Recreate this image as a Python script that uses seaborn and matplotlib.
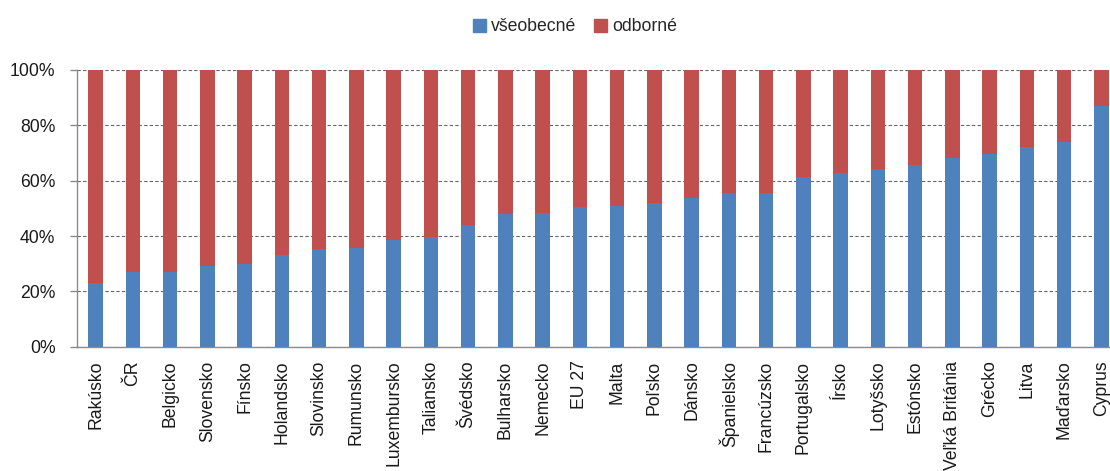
import matplotlib
matplotlib.use("Agg")
import matplotlib.pyplot as plt
from matplotlib.patches import Patch
from matplotlib.ticker import FixedLocator
import seaborn as sns
import pandas as pd
import numpy as np

countries = ["Rakúsko", "ČR", "Belgicko", "Slovensko", "Fínsko", "Holandsko",
             "Slovinsko", "Rumunsko", "Luxembursko", "Taliansko", "Švédsko",
             "Bulharsko", "Nemecko", "EU 27", "Malta", "Poľsko", "Dánsko",
             "Španielsko", "Francúzsko", "Portugalsko", "Írsko", "Lotyšsko",
             "Estónsko", "Veľká Británia", "Grécko", "Litva", "Maďarsko", "Cyprus"]
vseobecne = [23, 27, 27, 29, 30, 33, 35.3, 35.7, 38.6, 39.8, 44.1, 48, 48.4,
             50.4, 50.8, 51.8, 53.7, 55.4, 55.5, 61.4, 62.9, 64.1, 65.7, 68.1,
             69.6, 72.3, 74.1, 87]
odborne = [100 - v for v in vseobecne]

blue = "#4F81BD"
red = "#C0504D"

df = pd.DataFrame({"krajina": countries, "vseobecne": vseobecne, "odborne": odborne})
df["spolu"] = df["vseobecne"] + df["odborne"]

sns.set_theme(style="white")
plt.rcParams["font.family"] = ["Liberation Sans", "DejaVu Sans"]

fig = plt.figure(figsize=(11.1, 4.71), dpi=100)
ax = fig.add_axes([77 / 1110, 124.3 / 471, 1043 / 1110, 276.7 / 471])

# stacked: total in red, general share in blue on top of it
sns.barplot(data=df, x="krajina", y="spolu", color=red, width=0.385,
            saturation=1, linewidth=0, ax=ax, zorder=3)
sns.barplot(data=df, x="krajina", y="vseobecne", color=blue, width=0.385,
            saturation=1, linewidth=0, ax=ax, zorder=4)

ax.set_xlim(-0.5, len(countries) - 0.5)
ax.set_ylim(0, 100)
ax.set_yticks(np.arange(0, 101, 20))
ax.set_yticklabels([f"{v}%" for v in range(0, 101, 20)])
ax.yaxis.grid(True, linestyle=(0, (3, 2)), color="#666666", linewidth=0.8, zorder=0)
ax.xaxis.grid(False)
ax.set_axisbelow(True)
ax.set_xlabel("")
ax.set_ylabel("")

for side in ["top", "right"]:
    ax.spines[side].set_visible(False)
for side in ["left", "bottom"]:
    ax.spines[side].set_color("#8c8c8c")
    ax.spines[side].set_linewidth(1.0)

ax.tick_params(axis="x", which="major", length=0, pad=10, labelsize=12.7,
               labelrotation=90, labelcolor="#1a1a1a")
ax.xaxis.set_minor_locator(FixedLocator(np.arange(-0.5, len(countries), 1)))
ax.tick_params(axis="x", which="minor", length=5, width=1, color="#8c8c8c",
               direction="out")
ax.tick_params(axis="y", length=5, width=1, color="#8c8c8c", direction="out",
               pad=10.5, labelsize=12.7, labelcolor="#1a1a1a", left=True)

handles = [Patch(color=blue, label="všeobecné"), Patch(color=red, label="odborné")]
fig.legend(handles=handles, loc="center", bbox_to_anchor=(0.518, 0.943), ncol=2,
           frameon=False, fontsize=12.7, handlelength=0.75, handleheight=0.75,
           handletextpad=0.3, columnspacing=1.0)

fig.savefig("out.png", dpi=100)
